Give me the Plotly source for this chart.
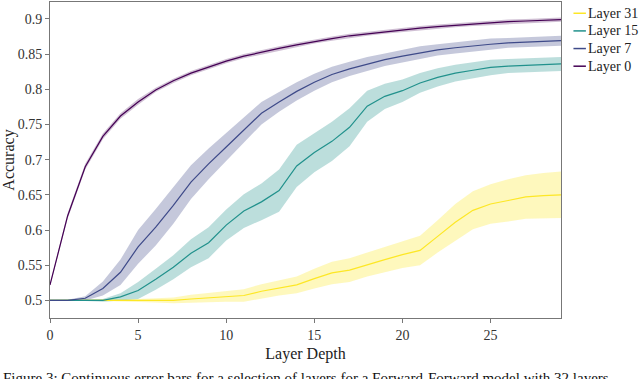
import plotly.graph_objects as go

depth = list(range(30))

layer_names = ["Layer 31", "Layer 15", "Layer 7", "Layer 0"]
line_colors = ["#fde725", "#21918c", "#3e4a89", "#440154"]
band_colors = ["rgba(253,231,37,0.3)", "rgba(33,145,140,0.3)", "rgba(62,74,137,0.3)", "rgba(68,1,84,0.25)"]

acc_layer0 = [0.522, 0.62, 0.69, 0.733, 0.762, 0.782, 0.799, 0.812, 0.823, 0.832, 0.840, 0.847,
              0.853, 0.858, 0.863, 0.868, 0.872, 0.876, 0.879, 0.882, 0.885, 0.887, 0.889, 0.891,
              0.893, 0.895, 0.896, 0.897, 0.898, 0.899]
std_layer0 = [0.002] + [0.004] * 5 + [0.003] * 24

acc_layer7 = [0.5, 0.5, 0.503, 0.517, 0.540, 0.576, 0.604, 0.635, 0.668, 0.694, 0.718, 0.742,
              0.766, 0.782, 0.797, 0.810, 0.821, 0.829, 0.836, 0.842, 0.847, 0.852, 0.856, 0.859,
              0.862, 0.864, 0.866, 0.867, 0.868, 0.869]
std_layer7 = [0.001, 0.001, 0.003, 0.010, 0.018, 0.024, 0.026, 0.026, 0.024, 0.022, 0.020, 0.018,
              0.016, 0.014, 0.013, 0.012, 0.011, 0.010, 0.010, 0.009, 0.009, 0.009, 0.008, 0.008,
              0.008, 0.008, 0.007, 0.007, 0.007, 0.007]

acc_layer15 = [0.5, 0.5, 0.5, 0.5, 0.505, 0.514, 0.530, 0.547, 0.567, 0.582, 0.607, 0.627,
               0.640, 0.656, 0.691, 0.710, 0.726, 0.746, 0.776, 0.790, 0.798, 0.809, 0.817, 0.823,
               0.827, 0.831, 0.833, 0.834, 0.835, 0.836]
std_layer15 = [0.001, 0.001, 0.001, 0.002, 0.005, 0.012, 0.015, 0.017, 0.020, 0.022, 0.022, 0.024,
               0.026, 0.030, 0.030, 0.028, 0.028, 0.027, 0.022, 0.018, 0.016, 0.014, 0.013, 0.012,
               0.012, 0.011, 0.010, 0.010, 0.010, 0.010]

acc_layer31 = [0.5, 0.5, 0.5, 0.5, 0.5, 0.5, 0.5, 0.5, 0.502, 0.504, 0.506, 0.507,
               0.513, 0.518, 0.522, 0.531, 0.539, 0.543, 0.551, 0.558, 0.565, 0.571, 0.591, 0.611,
               0.628, 0.637, 0.642, 0.647, 0.649, 0.650]
std_layer31 = [0.001, 0.001, 0.001, 0.001, 0.001, 0.002, 0.003, 0.004, 0.006, 0.007, 0.008, 0.009,
               0.010, 0.011, 0.012, 0.014, 0.016, 0.017, 0.017, 0.018, 0.019, 0.021, 0.023, 0.026,
               0.027, 0.028, 0.030, 0.031, 0.032, 0.033]

means = [acc_layer31, acc_layer15, acc_layer7, acc_layer0]
stds = [std_layer31, std_layer15, std_layer7, std_layer0]

y_tick_vals = [0.5, 0.55, 0.6, 0.65, 0.7, 0.75, 0.8, 0.85, 0.9]
y_tick_text = ["0.5", "0.55", "0.6", "0.65", "0.7", "0.75", "0.8", "0.85", "0.9"]
x_tick_vals = [0, 5, 10, 15, 20, 25]

caption = "Figure 3: Continuous error bars for a selection of layers for a Forward-Forward model with 32 layers"

FONT = "'Liberation Serif', 'Times New Roman', Times, 'DejaVu Serif', serif"
fig = go.Figure()

for name, m, s, bc in zip(layer_names, means, stds, band_colors):
    upper = [a + b for a, b in zip(m, s)]
    lower = [a - b for a, b in zip(m, s)]
    fig.add_trace(go.Scatter(
        x=depth + depth[::-1], y=upper + lower[::-1],
        fill="toself", fillcolor=bc, line=dict(width=0),
        mode="lines", hoverinfo="skip", showlegend=False))

for name, m, lc in zip(layer_names, means, line_colors):
    fig.add_trace(go.Scatter(x=depth, y=m, mode="lines", name=name,
                             line=dict(color=lc, width=1.2), showlegend=False))

L, R, T, B = 48, 79, 1, 61
W, H = 640, 379
pw, ph = W - L - R, H - T - B
def px_x(p):
    return (p - L) / pw
def px_y(p):
    return (H - B - p) / ph

for i, (name, lc) in enumerate(zip(layer_names, line_colors)):
    yc = 12.3 + 17.7 * i
    fig.add_shape(type="line", xref="paper", yref="paper",
                  x0=px_x(573.5), x1=px_x(586), y0=px_y(yc), y1=px_y(yc),
                  line=dict(color=lc, width=1.5))
    fig.add_annotation(text=name, xref="paper", yref="paper",
                       x=px_x(586.5), y=px_y(yc), xanchor="left", yanchor="middle",
                       showarrow=False, font=dict(family=FONT, size=14, color="#222"))

fig.add_annotation(text=caption, xref="paper", yref="paper",
                   x=px_x(-1), y=px_y(368), xanchor="left", yanchor="top",
                   showarrow=False, font=dict(family=FONT, size=15, color="#111"))

fig.update_layout(
    width=W, height=H,
    margin=dict(l=L, r=R, t=T, b=B),
    paper_bgcolor="white", plot_bgcolor="white",
    font=dict(family=FONT, size=14, color="#333"),
    showlegend=False,
)
fig.update_xaxes(range=[0, 29], tickvals=x_tick_vals, showgrid=False, zeroline=False,
                 showline=True, linecolor="#777", linewidth=1, mirror=True,
                 ticks="outside", ticklen=4, tickcolor="#777",
                 title=dict(text="Layer Depth", font=dict(family=FONT, size=16, color="#222"), standoff=6),
                 tickfont=dict(family=FONT, size=14, color="#333"))
fig.update_yaxes(range=[0.475, 0.924], tickvals=y_tick_vals, ticktext=y_tick_text,
                 showgrid=False, zeroline=False,
                 showline=True, linecolor="#777", linewidth=1, mirror=True,
                 ticks="outside", ticklen=4, tickcolor="#777",
                 title=dict(text="Accuracy", font=dict(family=FONT, size=16, color="#222"), standoff=6),
                 tickfont=dict(family=FONT, size=14, color="#333"))

fig.write_html("out.html")
